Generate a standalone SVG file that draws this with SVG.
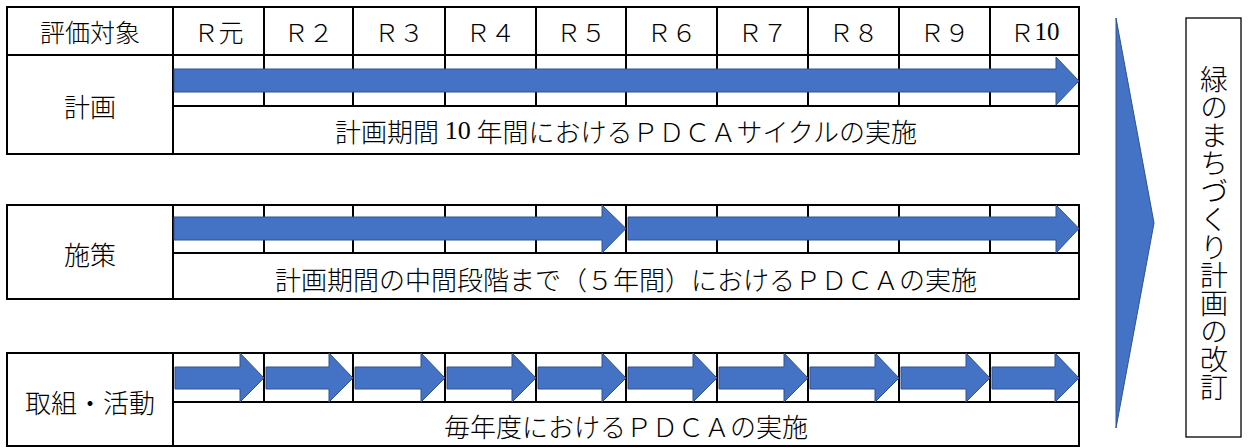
<svg xmlns="http://www.w3.org/2000/svg" width="1249" height="448" viewBox="0 0 1249 448">
<style>
.ln{stroke:#000;stroke-width:2;fill:none}
.box{stroke:#000;stroke-width:2;fill:#fff}
.t{font-family:"Noto Sans CJK JP","Noto Sans",sans-serif;font-size:26px;font-weight:300;fill:#000;text-anchor:middle;dominant-baseline:central}
.h{font-size:25px}
.ser{font-family:"Liberation Serif",serif;font-weight:400}
.ar{fill:#4472C4;stroke:#2F528F;stroke-width:1}
</style>
<rect width="1249" height="448" fill="#fff"/>
<g id="table1">
<rect class="box" x="7" y="7" width="1072" height="147"/>
<path class="ln" d="M7 55H1079M173 7V154M173 106H1079M264 7V106M353 7V106M445 7V106M536 7V106M626 7V106M717 7V106M808 7V106M899 7V106M990 7V106"/>
<text class="t h" x="90" y="31">評価対象</text>
<text class="t h" x="218.5" y="31">Ｒ元</text>
<text class="t h" x="308.5" y="31">Ｒ２</text>
<text class="t h" x="399" y="31">Ｒ３</text>
<text class="t h" x="490.5" y="31">Ｒ４</text>
<text class="t h" x="581" y="31">Ｒ５</text>
<text class="t h" x="671.5" y="31">Ｒ６</text>
<text class="t h" x="762.5" y="31">Ｒ７</text>
<text class="t h" x="853.5" y="31">Ｒ８</text>
<text class="t h" x="944.5" y="31">Ｒ９</text>
<text class="t h" x="1034.5" y="31">Ｒ<tspan class="ser">10</tspan></text>
<text class="t" x="90" y="105">計画</text>
<text class="t" x="626" y="130">計画期間 <tspan class="ser">10</tspan> 年間におけるＰＤＣＡサイクルの実施</text>
</g>
<g id="table2">
<rect class="box" x="7" y="205" width="1072" height="94"/>
<path class="ln" d="M173 205V299M173 253H1079M264 205V253M353 205V253M445 205V253M536 205V253M626 205V253M717 205V253M808 205V253M899 205V253M990 205V253"/>
<text class="t" x="90" y="253">施策</text>
<text class="t" x="626" y="278">計画期間の中間段階まで（５年間）におけるＰＤＣＡの実施</text>
</g>
<g id="table3">
<rect class="box" x="7" y="353" width="1072" height="93"/>
<path class="ln" d="M173 353V446M173 402H1079M264 353V402M353 353V402M445 353V402M536 353V402M626 353V402M717 353V402M808 353V402M899 353V402M990 353V402"/>
<text class="t" x="90" y="401">取組・活動</text>
<text class="t" x="626" y="425">毎年度におけるＰＤＣＡの実施</text>
</g>
<g id="connectors">
<polygon class="ar" points="174,69 1056,69 1056,57 1079,81 1056,105 1056,92 174,92"/>
<polygon class="ar" points="174,217 602,217 602,205 626,228.5 602,253 602,240 174,240"/>
<polygon class="ar" points="628,217 1056,217 1056,205 1079,228.5 1056,253 1056,240 628,240"/>
<polygon class="ar" points="175,367 240,367 240,353 264,378 240,402 240,389 175,389"/>
<polygon class="ar" points="266,367 329,367 329,353 353,378 329,402 329,389 266,389"/>
<polygon class="ar" points="355,367 421,367 421,353 445,378 421,402 421,389 355,389"/>
<polygon class="ar" points="447,367 512,367 512,353 536,378 512,402 512,389 447,389"/>
<polygon class="ar" points="538,367 602,367 602,353 626,378 602,402 602,389 538,389"/>
<polygon class="ar" points="628,367 693,367 693,353 717,378 693,402 693,389 628,389"/>
<polygon class="ar" points="719,367 784,367 784,353 808,378 784,402 784,389 719,389"/>
<polygon class="ar" points="810,367 875,367 875,353 899,378 875,402 875,389 810,389"/>
<polygon class="ar" points="901,367 966,367 966,353 990,378 966,402 966,389 901,389"/>
<polygon class="ar" points="992,367 1055,367 1055,353 1079,378 1055,402 1055,389 992,389"/>
</g>
<g id="chevron">
<polygon class="ar" points="1116,18 1154,223 1116,428"/>
</g>
<g id="revision">
<rect x="1186" y="18" width="55" height="419" fill="#fff" stroke="#000" stroke-width="1.3"/>
<text class="t" x="1214" y="233" style="writing-mode:vertical-rl;font-size:28px;dominant-baseline:auto">緑のまちづくり計画の改訂</text>
</g>
</svg>
